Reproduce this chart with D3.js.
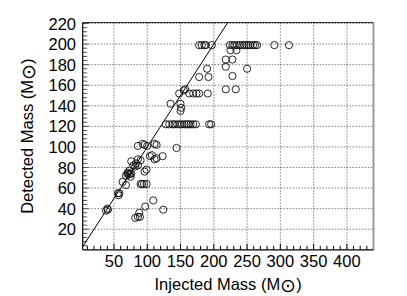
<!DOCTYPE html>
<html>
<head>
<meta charset="utf-8">
<script src="https://cdn.jsdelivr.net/npm/d3@7"></script>
<style>
  body { margin: 0; background: #fff; }
  text { font-family: "Liberation Sans", Arial, sans-serif; fill: #000; }
</style>
</head>
<body>
<script>
let width = 407
let height = 296

// injected / detected mass pairs
let injected = [
  38, 40, 41, 56, 57, 58, 63, 68,
  68, 70, 71, 72, 74, 75, 76, 73,
  76, 79, 82, 83, 86, 86, 90, 96, 99,
  86, 93, 96, 100, 114, 111,
  104, 107, 111, 114, 123, 144,
  90, 92, 95, 99, 82, 86, 89, 88, 97, 109, 124,
  135, 150, 151, 150,
  128, 133, 138, 141, 145, 149, 152, 156, 159, 162, 165, 169, 173, 193, 196,
  148, 163, 169, 174, 178, 191, 155, 157,
  178, 192, 190,
  178, 182, 186, 188, 197,
  218, 228, 218, 228, 250, 218, 233, 225, 234,
  224, 228, 231, 235, 239, 243, 246, 249, 252, 255, 259, 262, 265, 291, 313
]
let detected = [
  38, 40, 39, 55, 53, 55, 66, 63,
  72, 74, 75, 73, 74, 71, 74, 77,
  86, 82, 81, 84, 82, 88, 87, 76, 78,
  101, 103, 102, 101, 102, 103,
  91, 92, 88, 89, 91, 99,
  64, 64, 64, 64, 31, 32, 32, 36, 42, 48, 39,
  142, 142, 138, 135,
  122, 122, 122, 122, 122, 122, 122, 122, 122, 122, 122, 122, 122, 122, 122,
  152, 152, 152, 152, 152, 152, 155, 156,
  168, 168, 176,
  199, 199, 199, 199, 199,
  185, 185, 178, 169, 176, 156, 156, 194, 194,
  199, 199, 199, 199, 199, 199, 199, 199, 199, 199, 199, 199, 199, 199, 199
]

let xTicks = [50, 100, 150, 200, 250, 300, 350, 400]
let yTicks = [20, 40, 60, 80, 100, 120, 140, 160, 180, 200, 220]

let svg = d3.select('body')
  .append('svg')
  .attr('width', width)
  .attr('height', height)

let pLeft = 82.7, pRight = 373.5, pTop = 22.5, pBottom = 249.8

let x = d3.scaleLinear().domain([3, 440]).range([pLeft, pRight])
let y = d3.scaleLinear().domain([0, 221]).range([pBottom, pTop])

// grid
let grid = svg.append('g')
grid.selectAll('line.gx')
  .data(xTicks)
  .enter()
  .append('line')
  .attr('x1', d => x(d)).attr('x2', d => x(d))
  .attr('y1', pTop).attr('y2', pBottom)
  .attr('stroke', '#444')
  .attr('stroke-width', 1)
  .attr('stroke-dasharray', '1,2')
grid.selectAll('line.gy')
  .data(yTicks)
  .enter()
  .append('line')
  .attr('y1', d => y(d)).attr('y2', d => y(d))
  .attr('x1', pLeft).attr('x2', pRight)
  .attr('stroke', '#444')
  .attr('stroke-width', 1)
  .attr('stroke-dasharray', '1,2')

// minor ticks, pointing inward
let xMinor = d3.range(10, 441, 10)
svg.append('g').selectAll('line')
  .data(xMinor)
  .enter()
  .append('line')
  .attr('x1', d => x(d)).attr('x2', d => x(d))
  .attr('y1', pBottom)
  .attr('y2', d => pBottom - (d % 50 === 0 ? 6 : 4))
  .attr('stroke', '#000')
let yMinor = d3.range(4, 221, 4)
svg.append('g').selectAll('line')
  .data(yMinor)
  .enter()
  .append('line')
  .attr('y1', d => y(d)).attr('y2', d => y(d))
  .attr('x1', pLeft)
  .attr('x2', d => pLeft + (d % 20 === 0 ? 6 : 4.5))
  .attr('stroke', '#555')

// frame
svg.append('line').attr('x1', pLeft).attr('x2', pRight).attr('y1', pTop).attr('y2', pTop)
  .attr('stroke', '#333').attr('stroke-width', 1)
svg.append('line').attr('x1', pRight).attr('x2', pRight).attr('y1', pTop).attr('y2', pBottom)
  .attr('stroke', '#999').attr('stroke-width', 2)
svg.append('line').attr('x1', pLeft).attr('x2', pLeft).attr('y1', pTop).attr('y2', pBottom)
  .attr('stroke', '#000').attr('stroke-width', 1.2)
svg.append('line').attr('x1', pLeft).attr('x2', pRight).attr('y1', pBottom).attr('y2', pBottom)
  .attr('stroke', '#000').attr('stroke-width', 1.2)

// y = x line
svg.append('defs').append('clipPath').attr('id', 'clip')
  .append('rect').attr('x', pLeft).attr('y', pTop)
  .attr('width', pRight - pLeft).attr('height', pBottom - pTop)
svg.append('line')
  .attr('clip-path', 'url(#clip)')
  .attr('x1', x(3)).attr('y1', y(3))
  .attr('x2', x(225)).attr('y2', y(225))
  .attr('stroke', '#000')
  .attr('stroke-width', 1)

// points
svg.append('g').selectAll('circle')
  .data(injected.map((d, i) => [d, detected[i]]))
  .enter()
  .append('circle')
  .attr('cx', d => x(d[0]))
  .attr('cy', d => y(d[1]))
  .attr('r', 3.6)
  .attr('fill', 'none')
  .attr('stroke', '#111')
  .attr('stroke-width', 0.9)

// tick labels
svg.append('g').selectAll('text')
  .data(xTicks)
  .enter()
  .append('text')
  .attr('x', d => x(d))
  .attr('y', 267)
  .attr('text-anchor', 'middle')
  .attr('font-size', 16.5)
  .text(d => d)
svg.append('g').selectAll('text')
  .data(yTicks)
  .enter()
  .append('text')
  .attr('x', 76)
  .attr('y', d => y(d) + 6)
  .attr('text-anchor', 'end')
  .attr('font-size', 16.5)
  .text(d => d)

// axis titles, with a bigger sun symbol
function title (sel, label) {
  sel.append('tspan').text(label + ' (M')
  sel.append('tspan').attr('font-size', 19).attr('dy', 1.5).text('⊙')
  sel.append('tspan').attr('dy', -1.5).text(')')
}
svg.append('text')
  .attr('x', (pLeft + pRight) / 2)
  .attr('y', 290)
  .attr('text-anchor', 'middle')
  .attr('font-size', 16.5)
  .call(title, 'Injected Mass')
svg.append('text')
  .attr('transform', 'translate(33,' + (pTop + pBottom) / 2 + ') rotate(-90)')
  .attr('text-anchor', 'middle')
  .attr('font-size', 16.5)
  .call(title, 'Detected Mass')
</script>
</body>
</html>
